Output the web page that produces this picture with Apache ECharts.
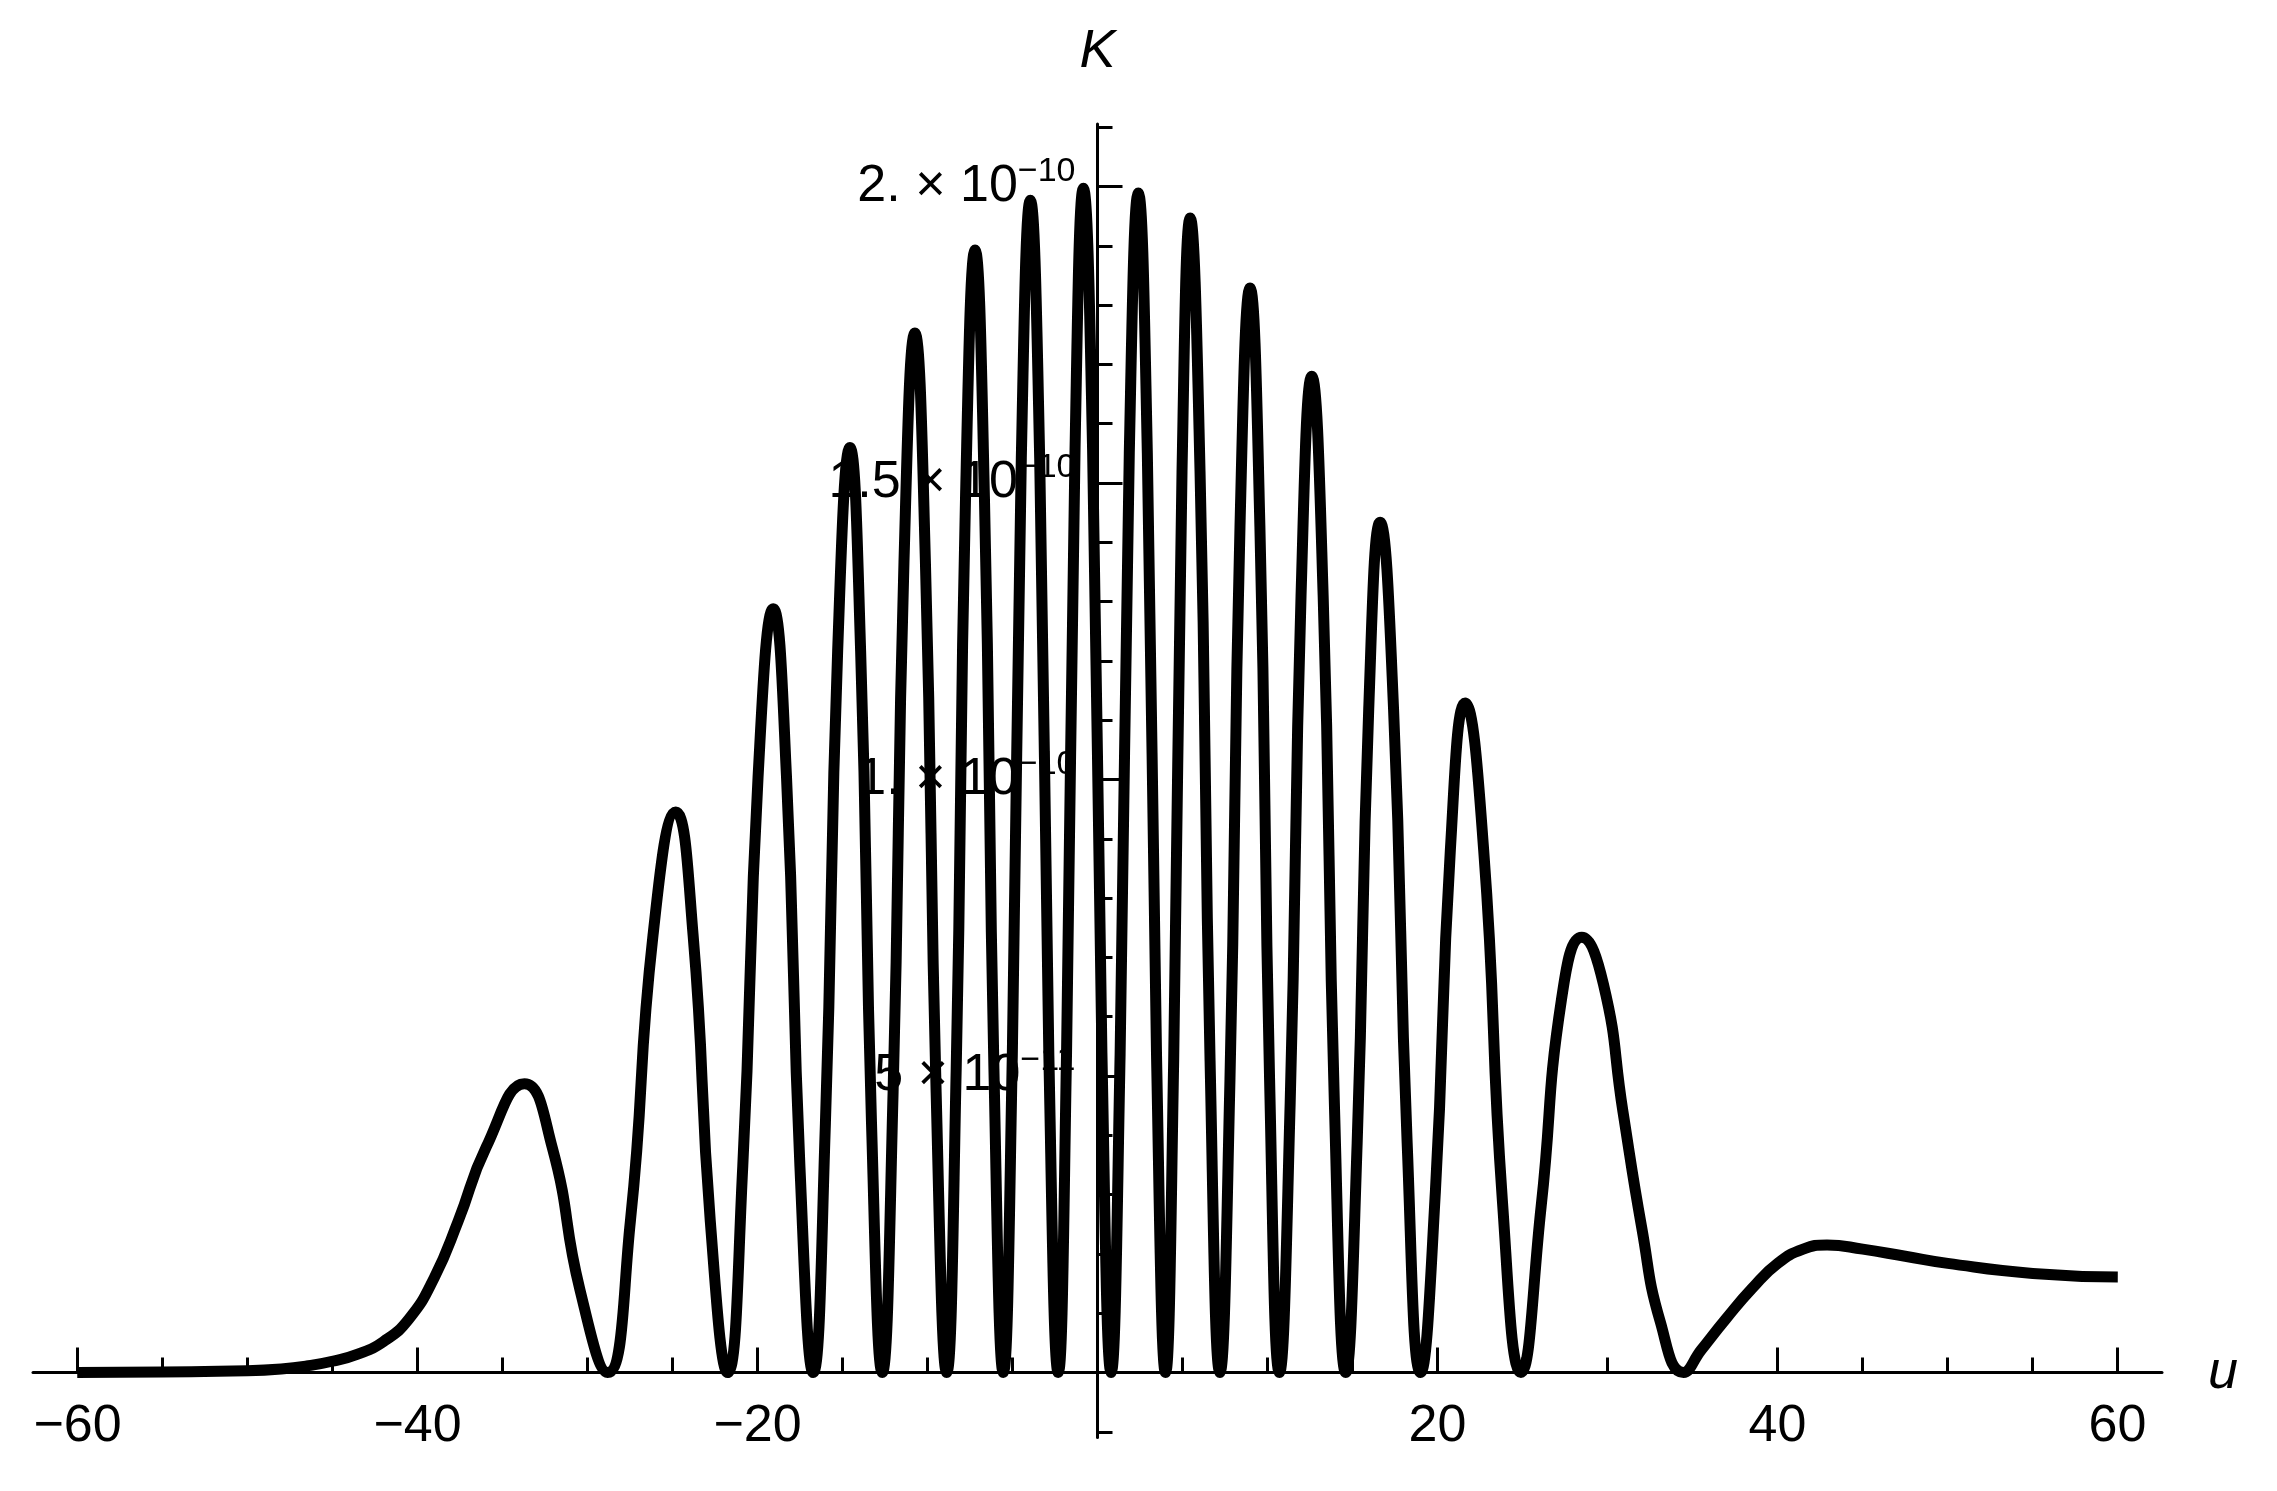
<!DOCTYPE html>
<html>
<head>
<meta charset="utf-8">
<script src="https://cdn.jsdelivr.net/npm/echarts@6/dist/echarts.min.js"></script>
<style>
  html, body { margin: 0; padding: 0; background: #ffffff; }
  #chart { width: 2277px; height: 1491px; }
</style>
</head>
<body>
<div id="chart"></div>
<script>
// u values (horizontal axis), one row per lobe
const uValues = [
  -60, -55, -50, -48, -46.5, -45, -43.5, -42, -40.5, -39, -37.6, -35.95, -33.7, -32.07, -30.44, -28.81,
  -27.47, -26.14, -24.8, -23.78, -22.77, -21.75,
  -20.86, -19.96, -19.07, -18.29, -17.50, -16.72,
  -16.0, -15.28, -14.56, -13.93, -13.29, -12.66,
  -12.02, -11.38, -10.74, -10.12, -9.49, -8.87,
  -8.31, -7.76, -7.2, -6.65, -6.09, -5.54,
  -5.01, -4.48, -3.95, -3.40, -2.86, -2.31,
  -1.82, -1.32, -0.83, -0.29, 0.26, 0.8,
  1.33, 1.87, 2.4, 2.93, 3.47, 4.0,
  4.48, 4.97, 5.45, 6.03, 6.62, 7.2,
  7.79, 8.38, 8.97, 9.55, 10.12, 10.7,
  11.33, 11.97, 12.6, 13.27, 13.93, 14.6,
  15.27, 15.95, 16.62, 17.41, 18.21, 19.0,
  19.87, 20.75, 21.62, 22.71, 23.81, 24.9,
  26.09, 27.29, 28.48, 29.75, 30.9, 32.0, 33.1, 34.46,
  35.5, 37.0, 38.5, 40.0, 41.5, 42.9, 45.0, 47.5, 50.0, 55.0, 60
];
// K values in units of 1e-11, same rows
const kValues = [
  0.00, 0.01, 0.03, 0.06, 0.11, 0.19, 0.31, 0.52, 0.9, 1.6, 2.55, 3.8, 4.87, 3.8, 1.4, 0,
  2.55, 7.37, 9.45, 7.37, 2.55, 0,
  3.48, 10.05, 12.88, 10.05, 3.48, 0,
  4.21, 12.17, 15.6, 12.17, 4.21, 0,
  4.73, 13.67, 17.53, 13.67, 4.73, 0,
  5.11, 14.77, 18.93, 14.77, 5.11, 0,
  5.34, 15.42, 19.77, 15.42, 5.34, 0,
  5.39, 15.58, 19.97, 15.58, 5.39, 0,
  5.37, 15.51, 19.89, 15.51, 5.37, 0,
  5.26, 15.19, 19.47, 15.19, 5.26, 0,
  4.94, 14.27, 18.29, 14.27, 4.94, 0,
  4.54, 13.1, 16.8, 13.1, 4.54, 0,
  3.87, 11.19, 14.34, 11.19, 3.87, 0,
  3.05, 8.81, 11.29, 8.81, 2.9, 0,
  2.8, 6.3, 7.34, 6.55, 4.4, 2.45, 0.85, 0,
  0.38, 0.92, 1.42, 1.84, 2.08, 2.15, 2.08, 1.96, 1.84, 1.67, 1.61
];

// Tick labels
const xTickValues = [-60, -40, -20, 20, 40, 60];
const xTickLabels = ['\u221260', '\u221240', '\u221220', '20', '40', '60'];
const yTickValues = [5, 10, 15, 20];          // in units of 1e-11
const yTickMantissa = ['5', '1.', '1.5', '2.'];
const yTickExponent = ['\u221211', '\u221210', '\u221210', '\u221210'];

const FONT = '"Liberation Sans", Arial, sans-serif';
const data = uValues.map((u, i) => [u, kValues[i]]);

const chart = echarts.init(document.getElementById('chart'), null, { renderer: 'canvas' });

const hidden = { show: false };
const tickLine = { color: '#000', width: 3 };

chart.setOption({
  backgroundColor: '#ffffff',
  animation: false,
  grid: [
    { left: 33, top: 124, width: 2129, height: 1313.5 },      // data grid
    { left: 77.5, top: 124, width: 2040, height: 1248.5 },    // x ticks (-60..60)
    { left: 1097.5, top: 127.2, width: 100, height: 1304.6 }, // y minor ticks (-1..21)
    { left: 1097.5, top: 186.5, width: 100, height: 1186 }    // y major ticks (0..20)
  ],
  xAxis: [
    {
      gridIndex: 0, type: 'value', min: -62.6, max: 62.6, position: 'bottom',
      axisLine: { show: true, onZero: true, lineStyle: { color: '#000', width: 3 } },
      axisTick: hidden, axisLabel: hidden, splitLine: hidden,
      name: 'u', nameLocation: 'end', nameGap: 46,
      nameTextStyle: { fontFamily: FONT, fontStyle: 'italic', fontSize: 54, color: '#000', verticalAlign: 'middle' }
    },
    {
      gridIndex: 1, type: 'value', min: -60, max: 60, interval: 5, position: 'bottom',
      axisLine: { show: false, onZero: false },
      axisTick: { show: true, inside: true, length: 15, lineStyle: tickLine },
      axisLabel: hidden, splitLine: hidden
    },
    {
      gridIndex: 1, type: 'value', min: -60, max: 60, interval: 20, position: 'bottom', offset: 0,
      axisLine: { show: false, onZero: false },
      axisTick: { show: true, inside: true, length: 25, lineStyle: tickLine },
      axisLabel: {
        show: true, margin: 28, fontFamily: FONT, fontSize: 52, color: '#000',
        formatter: (v) => {
          const i = xTickValues.indexOf(v);
          return i >= 0 ? xTickLabels[i] : '';
        }
      },
      splitLine: hidden
    },
    { gridIndex: 2, type: 'value', min: 0, max: 1, show: false },
    { gridIndex: 3, type: 'value', min: 0, max: 1, show: false }
  ],
  yAxis: [
    {
      gridIndex: 0, type: 'value', min: -1.096, max: 21.054,
      axisLine: { show: true, onZero: true, lineStyle: { color: '#000', width: 3 } },
      axisTick: hidden, axisLabel: hidden, splitLine: hidden,
      name: 'K', nameLocation: 'end', nameGap: 45,
      nameTextStyle: { fontFamily: FONT, fontStyle: 'italic', fontSize: 54, color: '#000' }
    },
    { gridIndex: 1, type: 'value', min: 0, max: 1, show: false },
    {
      gridIndex: 2, type: 'value', min: -1, max: 21, interval: 1, position: 'left',
      axisLine: { show: false, onZero: false },
      axisTick: { show: true, inside: true, length: 15, lineStyle: tickLine },
      axisLabel: hidden, splitLine: hidden
    },
    {
      gridIndex: 3, type: 'value', min: 0, max: 20, interval: 5, position: 'left',
      axisLine: { show: false, onZero: false },
      axisTick: { show: true, inside: true, length: 25, lineStyle: tickLine },
      axisLabel: {
        show: true, margin: 22, color: '#000',
        formatter: (v) => {
          const i = yTickValues.indexOf(v);
          if (i < 0) return '';
          return '{m|' + yTickMantissa[i] + ' \u00d7 10}{e|' + yTickExponent[i] + '}';
        },
        rich: {
          m: { fontFamily: FONT, fontSize: 52, color: '#000', verticalAlign: 'middle' },
          e: { fontFamily: FONT, fontSize: 34, color: '#000', padding: [0, 0, 30, 0], verticalAlign: 'middle' }
        }
      },
      splitLine: hidden
    }
  ],
  series: [
    {
      type: 'line',
      xAxisIndex: 0,
      yAxisIndex: 0,
      data: data,
      smooth: 0.5,
      showSymbol: false,
      symbol: 'none',
      lineStyle: { color: '#000', width: 11, cap: 'butt', join: 'round' },
      z: 5
    }
  ]
});
</script>
</body>
</html>
